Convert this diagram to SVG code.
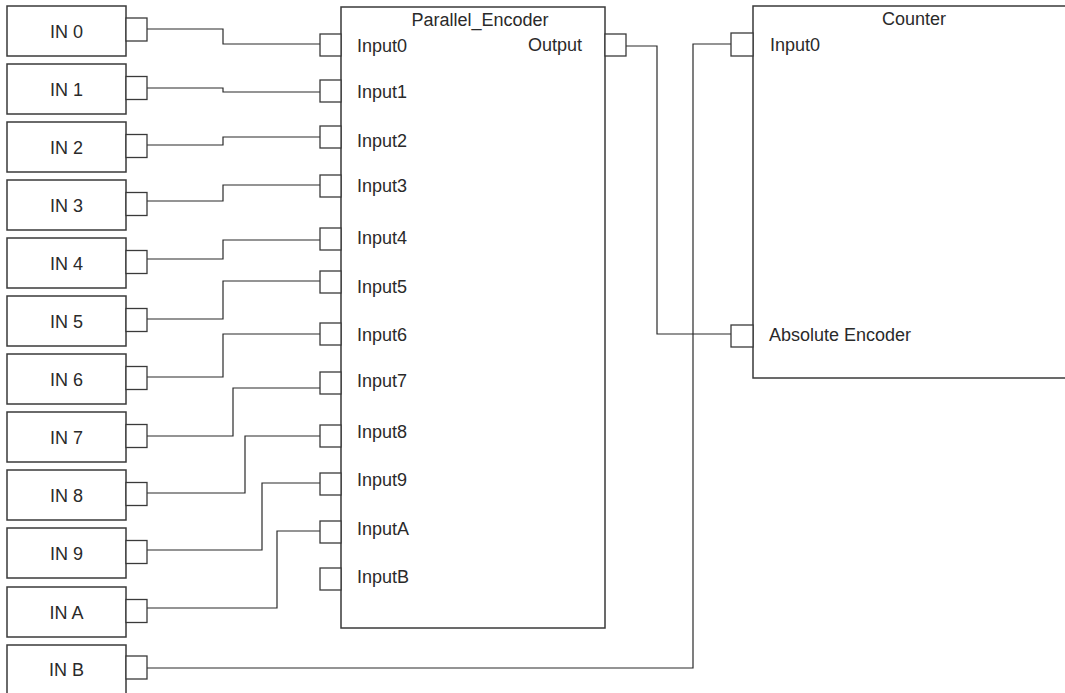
<svg xmlns="http://www.w3.org/2000/svg" width="1065" height="693" viewBox="0 0 1065 693">
<style>
.box{fill:#fff;stroke:#3a3a3a;stroke-width:1.5}
.port{fill:#fff;stroke:#3a3a3a;stroke-width:1.3}
.wire{fill:none;stroke:#2a2a2a;stroke-width:1.2}
text{font-family:"Liberation Sans",Arial,sans-serif;font-size:18px;fill:#2a2a2a}
.c{text-anchor:middle}
.r{text-anchor:end}
</style>
<rect width="1065" height="693" fill="#fff"/>
<g id="connectors">
<path class="wire" d="M147 29 H223 V44 H320"/>
<path class="wire" d="M147 88 H223 V92 H320"/>
<path class="wire" d="M147 145 H223 V137 H320"/>
<path class="wire" d="M147 201 H223 V185 H320"/>
<path class="wire" d="M147 259 H223 V240 H320"/>
<path class="wire" d="M147 319 H223 V281 H320"/>
<path class="wire" d="M147 377 H223 V334 H320"/>
<path class="wire" d="M147 436 H233 V388 H320"/>
<path class="wire" d="M147 493 H245 V436 H320"/>
<path class="wire" d="M147 550 H262 V483 H320"/>
<path class="wire" d="M147 608 H277 V531 H320"/>
<path class="wire" d="M147 668 H693 V44 H731"/>
<path class="wire" d="M626 46 H657 V334 H731"/>
</g>
<g id="in0"><rect class="box" x="7" y="6" width="119" height="50"/><rect class="port" x="126" y="18" width="21" height="23"/><text class="c" x="66.5" y="37.5">IN 0</text></g>
<g id="in1"><rect class="box" x="7" y="64" width="119" height="50"/><rect class="port" x="126" y="76.5" width="21" height="23"/><text class="c" x="66.5" y="95.5">IN 1</text></g>
<g id="in2"><rect class="box" x="7" y="122" width="119" height="50"/><rect class="port" x="126" y="134.5" width="21" height="23"/><text class="c" x="66.5" y="153.5">IN 2</text></g>
<g id="in3"><rect class="box" x="7" y="180" width="119" height="50"/><rect class="port" x="126" y="192.5" width="21" height="23"/><text class="c" x="66.5" y="211.5">IN 3</text></g>
<g id="in4"><rect class="box" x="7" y="238" width="119" height="50"/><rect class="port" x="126" y="250.5" width="21" height="23"/><text class="c" x="66.5" y="269.5">IN 4</text></g>
<g id="in5"><rect class="box" x="7" y="296" width="119" height="50"/><rect class="port" x="126" y="308.5" width="21" height="23"/><text class="c" x="66.5" y="327.5">IN 5</text></g>
<g id="in6"><rect class="box" x="7" y="354" width="119" height="50"/><rect class="port" x="126" y="366.5" width="21" height="23"/><text class="c" x="66.5" y="385.5">IN 6</text></g>
<g id="in7"><rect class="box" x="7" y="412" width="119" height="50"/><rect class="port" x="126" y="424.5" width="21" height="23"/><text class="c" x="66.5" y="443.5">IN 7</text></g>
<g id="in8"><rect class="box" x="7" y="470" width="119" height="50"/><rect class="port" x="126" y="482.5" width="21" height="23"/><text class="c" x="66.5" y="501.5">IN 8</text></g>
<g id="in9"><rect class="box" x="7" y="528" width="119" height="50"/><rect class="port" x="126" y="540.5" width="21" height="23"/><text class="c" x="66.5" y="559.5">IN 9</text></g>
<g id="inA"><rect class="box" x="7" y="587" width="119" height="50"/><rect class="port" x="126" y="599.5" width="21" height="23"/><text class="c" x="66.5" y="618.5">IN A</text></g>
<g id="inB"><rect class="box" x="7" y="645" width="119" height="60"/><rect class="port" x="126" y="656" width="21" height="23"/><text class="c" x="66.5" y="676">IN B</text></g>
<g id="parallel_encoder">
<rect class="box" x="341" y="7" width="264" height="621"/>
<text class="c" x="480" y="26">Parallel_Encoder</text>
<rect class="port" x="320" y="34" width="21" height="22"/><text x="357" y="52">Input0</text>
<rect class="port" x="320" y="80" width="21" height="22"/><text x="357" y="98">Input1</text>
<rect class="port" x="320" y="126" width="21" height="22"/><text x="357" y="147">Input2</text>
<rect class="port" x="320" y="175" width="21" height="22"/><text x="357" y="192">Input3</text>
<rect class="port" x="320" y="228" width="21" height="22"/><text x="357" y="244">Input4</text>
<rect class="port" x="320" y="271" width="21" height="22"/><text x="357" y="293">Input5</text>
<rect class="port" x="320" y="323" width="21" height="22"/><text x="357" y="341">Input6</text>
<rect class="port" x="320" y="372" width="21" height="22"/><text x="357" y="387">Input7</text>
<rect class="port" x="320" y="425" width="21" height="22"/><text x="357" y="438">Input8</text>
<rect class="port" x="320" y="473" width="21" height="22"/><text x="357" y="486">Input9</text>
<rect class="port" x="320" y="521" width="21" height="22"/><text x="357" y="535">InputA</text>
<rect class="port" x="320" y="568" width="21" height="22"/><text x="357" y="583">InputB</text>
<rect class="port" x="605" y="34" width="21" height="22"/><text class="r" x="582" y="51">Output</text>
</g>
<g id="counter">
<rect class="box" x="753" y="6" width="330" height="372"/>
<text class="c" x="914" y="25">Counter</text>
<rect class="port" x="731" y="33" width="22" height="23"/><text x="770" y="51">Input0</text>
<rect class="port" x="731" y="325" width="22" height="22"/><text x="769" y="341">Absolute Encoder</text>
</g>
</svg>
